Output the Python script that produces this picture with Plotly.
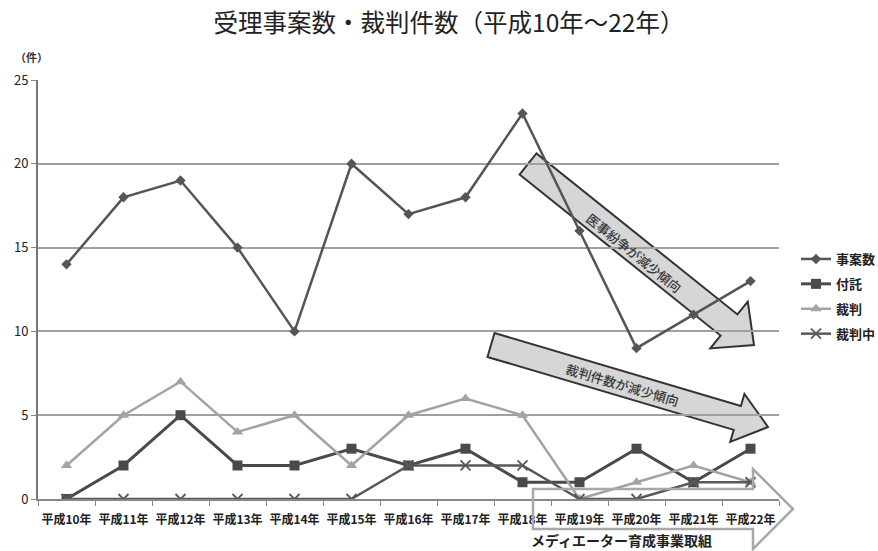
import math
import plotly.graph_objects as go

# 年度（平成10年〜22年）
years = ["平成10年", "平成11年", "平成12年", "平成13年", "平成14年", "平成15年", "平成16年",
         "平成17年", "平成18年", "平成19年", "平成20年", "平成21年", "平成22年"]

# 件数
jian_an = [14, 18, 19, 15, 10, 20, 17, 18, 23, 16, 9, 11, 13]   # 事案数
futaku = [0, 2, 5, 2, 2, 3, 2, 3, 1, 1, 3, 1, 3]               # 付託
saiban = [2, 5, 7, 4, 5, 2, 5, 6, 5, 0, 1, 2, 1]               # 裁判
saiban_chu = [0, 0, 0, 0, 0, 0, 2, 2, 2, 0, 0, 1, 1]           # 裁判中

y_ticks = [0, 5, 10, 15, 20, 25]

W, H = 878, 551
L_M, R_M, T_M, B_M = 38, 99, 80, 52
PW, PH = W - L_M - R_M, H - T_M - B_M

FONT = "Noto Sans CJK JP"


def px(x, y):
    """Pixel position -> paper coordinates."""
    return (x - L_M) / PW, (H - B_M - y) / PH


def poly_path(pts):
    p = [px(x, y) for x, y in pts]
    return "M " + " L ".join(f"{a:.5f},{b:.5f}" for a, b in p) + " Z"


def arrow_path(x0, y0, x1, y1, shaft_w, head_w, head_len):
    dx, dy = x1 - x0, y1 - y0
    n = math.hypot(dx, dy)
    ux, uy = dx / n, dy / n
    nx, ny = -uy, ux
    bx, by = x1 - ux * head_len, y1 - uy * head_len
    pts = [
        (x0 + nx * shaft_w / 2, y0 + ny * shaft_w / 2),
        (bx + nx * shaft_w / 2, by + ny * shaft_w / 2),
        (bx + nx * head_w / 2, by + ny * head_w / 2),
        (x1, y1),
        (bx - nx * head_w / 2, by - ny * head_w / 2),
        (bx - nx * shaft_w / 2, by - ny * shaft_w / 2),
        (x0 - nx * shaft_w / 2, y0 - ny * shaft_w / 2),
    ]
    return poly_path(pts)


fig = go.Figure()

fig.add_trace(go.Scatter(
    x=years, y=jian_an, name="事案数", mode="lines+markers", legendgroup="a",
    line=dict(color="#555555", width=2.5),
    marker=dict(symbol="diamond", size=8, color="#555555"),
))
fig.add_trace(go.Scatter(
    x=years, y=futaku, name="付託", mode="lines+markers", legendgroup="b",
    line=dict(color="#4a4a4a", width=3),
    marker=dict(symbol="square", size=10, color="#4a4a4a"),
))
fig.add_trace(go.Scatter(
    x=years, y=saiban, name="裁判", mode="lines+markers", legendgroup="c",
    line=dict(color="#a3a3a3", width=2.5),
    marker=dict(symbol="triangle-up", size=10, color="#a3a3a3"),
))
fig.add_trace(go.Scatter(
    x=years, y=saiban_chu, name="裁判中", mode="lines+markers", legendgroup="d",
    line=dict(color="#585858", width=2.5),
    marker=dict(symbol="x-thin", size=10, color="#585858",
                line=dict(color="#585858", width=1.8)),
))

shapes = [
    # 医事紛争の減少傾向を示す矢印
    dict(type="path", xref="paper", yref="paper", layer="between",
         path=arrow_path(528, 164, 754, 345, 27, 60, 32),
         fillcolor="#d6d6d6", line=dict(color="#333333", width=2)),
    # 裁判件数の減少傾向を示す矢印
    dict(type="path", xref="paper", yref="paper", layer="between",
         path=arrow_path(491, 345, 768, 427, 25, 50, 32),
         fillcolor="#d6d6d6", line=dict(color="#333333", width=2)),
    # メディエーター育成事業の期間を示す白抜き矢印
    dict(type="path", xref="paper", yref="paper", layer="above",
         path=poly_path([(533, 489), (753, 489), (753, 469), (793, 509),
                         (753, 549), (753, 529), (533, 529)]),
         fillcolor="rgba(0,0,0,0)", line=dict(color="#a8a8a8", width=2.5)),
]

annotations = []
ax, ay = px(31, 57)
annotations.append(dict(text="（件）", xref="paper", yref="paper", x=ax, y=ay,
                        xanchor="center", yanchor="middle", showarrow=False,
                        font=dict(family=FONT, size=11, color="#333333", weight=700)))
ax, ay = px(634, 252)
annotations.append(dict(text="医事紛争が減少傾向", xref="paper", yref="paper", x=ax, y=ay,
                        xanchor="center", yanchor="middle",
                        showarrow=False, textangle=38.7,
                        font=dict(family=FONT, size=13, color="#3a3a3a", weight=500)))
ax, ay = px(622, 384)
annotations.append(dict(text="裁判件数が減少傾向", xref="paper", yref="paper", x=ax, y=ay,
                        xanchor="center", yanchor="middle",
                        showarrow=False, textangle=16.4,
                        font=dict(family=FONT, size=13, color="#3a3a3a", weight=500)))
ax, ay = px(621, 540)
annotations.append(dict(text="メディエーター育成事業取組", xref="paper", yref="paper", x=ax, y=ay,
                        xanchor="center", yanchor="middle",
                        showarrow=False,
                        font=dict(family=FONT, size=14, color="#222222", weight=700)))

fig.update_layout(
    width=W, height=H,
    margin=dict(l=L_M, r=R_M, t=T_M, b=B_M, autoexpand=False),
    paper_bgcolor="white", plot_bgcolor="white",
    title=dict(text="受理事案数・裁判件数（平成10年～22年）", x=0.5 + 10 / W, xanchor="center",
               y=1 - 23 / H, yanchor="middle",
               font=dict(family=FONT, size=24.5, color="#222222")),
    font=dict(family=FONT, color="#333333"),
    showlegend=True,
    legend=dict(x=px(796, 0)[0], y=px(0, 244)[1], xanchor="left", yanchor="top",
                font=dict(family=FONT, size=13, color="#222222", weight=700),
                tracegroupgap=5, itemwidth=30, bgcolor="rgba(0,0,0,0)"),
    shapes=shapes,
    annotations=annotations,
)

fig.update_xaxes(
    type="category", categoryorder="array", categoryarray=years,
    range=[-0.5, len(years) - 0.5],
    showline=True, linecolor="#888888", linewidth=2,
    ticks="outside", tickson="boundaries", ticklen=5, tickcolor="#888888",
    showgrid=False, zeroline=False, tickangle=0, automargin=False,
    ticklabelstandoff=9,
    tickfont=dict(family=FONT, size=12, color="#222222", weight=700),
)
fig.update_yaxes(
    range=[0, 25], tickvals=y_ticks,
    showline=True, linecolor="#777777", linewidth=2,
    ticks="outside", ticklen=5, tickcolor="#888888",
    showgrid=True, gridcolor="#a0a0a0", gridwidth=1.5, zeroline=False,
    automargin=False,
    tickfont=dict(family=FONT, size=13, color="#222222"),
)

fig.write_html("out.html")
